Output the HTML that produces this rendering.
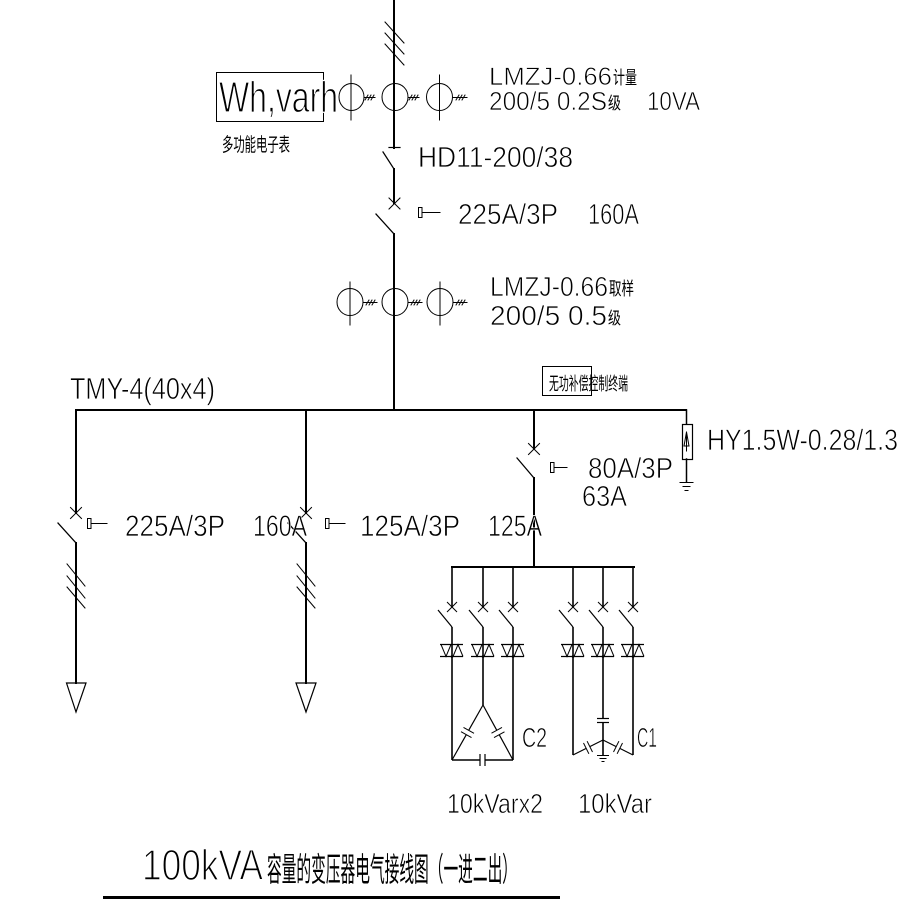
<!DOCTYPE html>
<html><head><meta charset="utf-8"><style>
html,body{margin:0;padding:0;background:#fff;}
svg{display:block;}
text{font-family:"Liberation Sans","Noto Sans CJK SC",sans-serif;fill:#000;stroke:#fff;stroke-width:0.7px;paint-order:fill;}
.cj{font-family:"Noto Sans CJK SC","WenQuanYi Zen Hei",sans-serif;stroke:none;}
</style></head><body>
<svg width="914" height="912" viewBox="0 0 914 912" xmlns="http://www.w3.org/2000/svg">
<rect width="914" height="912" fill="#fff"/>
<g stroke="#000" fill="none" stroke-linecap="square">
<!-- main vertical -->
<line x1="394" y1="0" x2="394" y2="148" stroke-width="2"/>
<line x1="389" y1="147.5" x2="400" y2="147.5" stroke-width="1.2"/>
<line x1="383" y1="152" x2="394" y2="169" stroke-width="1.3"/>
<line x1="394" y1="169" x2="394" y2="203" stroke-width="2"/>
<line x1="389" y1="198" x2="400" y2="209" stroke-width="1"/>
<line x1="400" y1="198" x2="389" y2="209" stroke-width="1"/>
<line x1="376" y1="214" x2="394" y2="234" stroke-width="1.3"/>
<line x1="394" y1="234" x2="394" y2="410" stroke-width="2"/>
<!-- top slashes -->
<line x1="385" y1="22" x2="404" y2="43" stroke-width="1"/>
<line x1="385" y1="33" x2="404" y2="54" stroke-width="1"/>
<line x1="385" y1="44" x2="404" y2="65" stroke-width="1"/>
<!-- Wh box -->
<rect x="216.5" y="72.5" width="107" height="49" stroke-width="1"/>
<!-- top CTs -->
<g stroke-width="1">
<ellipse cx="351.5" cy="97" rx="12.5" ry="13.5"/>
<line x1="351" y1="75" x2="351" y2="120"/>
<line x1="364" y1="97.5" x2="375" y2="97.5"/>
<line x1="365" y1="100" x2="368" y2="95"/><line x1="368" y1="100" x2="371" y2="95"/><line x1="371" y1="100" x2="374" y2="95"/>
<ellipse cx="395" cy="97" rx="13" ry="13.5"/>
<line x1="408" y1="97.5" x2="419" y2="97.5"/>
<line x1="409" y1="100" x2="412" y2="95"/><line x1="412" y1="100" x2="415" y2="95"/><line x1="415" y1="100" x2="418" y2="95"/>
<ellipse cx="439.5" cy="97" rx="13" ry="13.5"/>
<line x1="439.5" y1="75" x2="439.5" y2="120"/>
<line x1="452.5" y1="97.5" x2="467" y2="97.5"/>
<line x1="456" y1="100" x2="459" y2="95"/><line x1="459" y1="100" x2="462" y2="95"/><line x1="462" y1="100" x2="465" y2="95"/>
<!-- second CTs -->
<ellipse cx="350" cy="302" rx="13" ry="13.5"/>
<line x1="350" y1="282" x2="350" y2="325"/>
<line x1="363" y1="302.5" x2="377" y2="302.5"/>
<line x1="366" y1="305" x2="369" y2="300"/><line x1="369" y1="305" x2="372" y2="300"/><line x1="372" y1="305" x2="375" y2="300"/>
<ellipse cx="395" cy="302" rx="13" ry="13.5"/>
<line x1="408" y1="302.5" x2="422" y2="302.5"/>
<line x1="411" y1="305" x2="414" y2="300"/><line x1="414" y1="305" x2="417" y2="300"/><line x1="417" y1="305" x2="420" y2="300"/>
<ellipse cx="440" cy="302" rx="13" ry="13.5"/>
<line x1="440" y1="282" x2="440" y2="325"/>
<line x1="453" y1="302.5" x2="467" y2="302.5"/>
<line x1="456" y1="305" x2="459" y2="300"/><line x1="459" y1="305" x2="462" y2="300"/><line x1="462" y1="305" x2="465" y2="300"/>
<!-- operator symbols -->
<rect x="418.5" y="207.5" width="3.5" height="10"/><line x1="422" y1="212.5" x2="440" y2="212.5"/>
<rect x="87.5" y="518.5" width="3.5" height="10"/><line x1="91" y1="523.5" x2="107" y2="523.5"/>
<rect x="325.5" y="518.5" width="3.5" height="10"/><line x1="329" y1="523.5" x2="345" y2="523.5"/>
<rect x="550.5" y="462.5" width="3.5" height="10"/><line x1="554" y1="467.5" x2="567" y2="467.5"/>
<!-- control box -->
<rect x="542.5" y="366.5" width="49" height="29"/>
</g>
<!-- bus -->
<line x1="76" y1="410" x2="686" y2="410" stroke-width="2"/>
<!-- left feeder -->
<line x1="76" y1="410" x2="76" y2="513" stroke-width="2"/>
<line x1="70.5" y1="507.5" x2="81.5" y2="518.5" stroke-width="1"/>
<line x1="81.5" y1="507.5" x2="70.5" y2="518.5" stroke-width="1"/>
<line x1="58" y1="523" x2="76" y2="543" stroke-width="1.3"/>
<line x1="76" y1="543" x2="76" y2="683" stroke-width="2"/>
<line x1="67" y1="564" x2="85" y2="586" stroke-width="1"/>
<line x1="67" y1="576" x2="85" y2="598" stroke-width="1"/>
<line x1="67" y1="587" x2="85" y2="608" stroke-width="1"/>
<polygon points="66.5,683 86,683 76,712" stroke-width="1.2"/>
<!-- second feeder -->
<line x1="306" y1="410" x2="306" y2="513" stroke-width="2"/>
<line x1="300.5" y1="507.5" x2="311.5" y2="518.5" stroke-width="1"/>
<line x1="311.5" y1="507.5" x2="300.5" y2="518.5" stroke-width="1"/>
<line x1="288" y1="523" x2="306" y2="543" stroke-width="1.3"/>
<line x1="306" y1="543" x2="306" y2="683" stroke-width="2"/>
<line x1="297" y1="564" x2="315" y2="586" stroke-width="1"/>
<line x1="297" y1="576" x2="315" y2="598" stroke-width="1"/>
<line x1="297" y1="587" x2="315" y2="608" stroke-width="1"/>
<polygon points="296,683 316,683 306,712" stroke-width="1.2"/>
<!-- third feeder -->
<line x1="534" y1="410" x2="534" y2="448" stroke-width="2"/>
<line x1="528.5" y1="443.5" x2="539.5" y2="454.5" stroke-width="1"/>
<line x1="539.5" y1="443.5" x2="528.5" y2="454.5" stroke-width="1"/>
<line x1="517" y1="458" x2="534" y2="478" stroke-width="1.3"/>
<line x1="534" y1="478" x2="534" y2="567" stroke-width="2"/>
<!-- arrester -->
<line x1="686.5" y1="410" x2="686.5" y2="424" stroke-width="1.5"/>
<rect x="682.5" y="424.5" width="10" height="35" stroke-width="1.2"/>
<polygon points="684,446 686.5,432 689,446" stroke-width="1"/>
<line x1="686.5" y1="432" x2="686.5" y2="451" stroke-width="1"/>
<line x1="686.5" y1="459" x2="686.5" y2="482" stroke-width="1.5"/>
<line x1="680" y1="482.5" x2="693" y2="482.5" stroke-width="1"/>
<line x1="683" y1="486.5" x2="690" y2="486.5" stroke-width="1"/>
<line x1="685" y1="490.5" x2="688" y2="490.5" stroke-width="1"/>
<!-- capacitor bus -->
<line x1="452" y1="567" x2="634" y2="567" stroke-width="2"/>
</g>
<g stroke="#000" fill="none" stroke-width="1.6">
<!-- drops -->
<g id="d452">
<line x1="452" y1="567" x2="452" y2="607"/>
<line x1="447" y1="602" x2="457" y2="612" stroke-width="1"/><line x1="457" y1="602" x2="447" y2="612" stroke-width="1"/>
<line x1="438" y1="610" x2="452" y2="627" stroke-width="1.2"/>
<line x1="452" y1="627" x2="452" y2="656"/>
<line x1="440" y1="644.5" x2="463" y2="644.5" stroke-width="1.2"/>
<line x1="440" y1="656.5" x2="463" y2="656.5" stroke-width="1.2"/>
<polyline points="441,644.5 446,656.5 451,644.5" stroke-width="1"/>
<polyline points="453,656.5 458,644.5 463,656.5" stroke-width="1"/>
</g>
<use href="#d452" x="31"/>
<use href="#d452" x="61"/>
<use href="#d452" x="121"/>
<use href="#d452" x="151"/>
<use href="#d452" x="181"/>
<circle cx="452" cy="656.5" r="1.3" fill="#000" stroke="none"/>
<circle cx="483" cy="656.5" r="1.3" fill="#000" stroke="none"/>
<circle cx="513" cy="656.5" r="1.3" fill="#000" stroke="none"/>
<circle cx="573" cy="656.5" r="1.3" fill="#000" stroke="none"/>
<circle cx="603" cy="656.5" r="1.3" fill="#000" stroke="none"/>
<circle cx="633" cy="656.5" r="1.3" fill="#000" stroke="none"/>
<!-- C2 delta -->
<line x1="452" y1="656" x2="452" y2="760"/>
<line x1="513" y1="656" x2="513" y2="760"/>
<line x1="483" y1="656" x2="483" y2="705"/>
<line x1="483" y1="705" x2="468.7" y2="730.3" stroke-width="1.2"/>
<line x1="466.3" y1="734.7" x2="452" y2="760" stroke-width="1.2"/>
<line x1="463.5" y1="727.4" x2="474" y2="733.3" stroke-width="1"/>
<line x1="461" y1="731.7" x2="471.5" y2="737.6" stroke-width="1"/>
<line x1="483" y1="705" x2="496.8" y2="730.3" stroke-width="1.2"/>
<line x1="499.2" y1="734.7" x2="513" y2="760" stroke-width="1.2"/>
<line x1="491.5" y1="733.2" x2="502" y2="727.4" stroke-width="1"/>
<line x1="494" y1="737.6" x2="504.5" y2="731.8" stroke-width="1"/>
<line x1="452" y1="760" x2="480" y2="760"/>
<line x1="485" y1="760" x2="513" y2="760"/>
<line x1="480" y1="754" x2="480" y2="766" stroke-width="1.2"/>
<line x1="485" y1="754" x2="485" y2="766" stroke-width="1.2"/>
<!-- C1 star -->
<line x1="573" y1="656" x2="573" y2="755"/>
<line x1="633" y1="656" x2="633" y2="755"/>
<line x1="603" y1="656" x2="603" y2="718"/>
<line x1="597" y1="718.5" x2="609" y2="718.5" stroke-width="1.2"/>
<line x1="597" y1="722.5" x2="609" y2="722.5" stroke-width="1.2"/>
<line x1="603" y1="723" x2="603" y2="755"/>
<line x1="597" y1="755.5" x2="609" y2="755.5" stroke-width="1"/>
<line x1="599.5" y1="758.5" x2="606.5" y2="758.5" stroke-width="1"/>
<line x1="601.5" y1="761.5" x2="604.5" y2="761.5" stroke-width="1"/>
<line x1="573" y1="755" x2="586.2" y2="748.4" stroke-width="1.2"/>
<line x1="589.8" y1="746.6" x2="603" y2="740" stroke-width="1.2"/>
<line x1="583.5" y1="743" x2="588.9" y2="753.8" stroke-width="1"/>
<line x1="587.1" y1="741.2" x2="592.5" y2="752" stroke-width="1"/>
<line x1="603" y1="740" x2="616.2" y2="746.6" stroke-width="1.2"/>
<line x1="619.8" y1="748.4" x2="633" y2="755" stroke-width="1.2"/>
<line x1="618.9" y1="741.2" x2="613.5" y2="752" stroke-width="1"/>
<line x1="622.5" y1="743" x2="617.1" y2="753.8" stroke-width="1"/>
<!-- title underline -->
<line x1="103" y1="897.5" x2="560" y2="897.5" stroke-width="3" stroke-linecap="butt"/>
</g>
<!-- TEXT -->
<text x="219" y="112" font-size="44" textLength="119" lengthAdjust="spacingAndGlyphs" style="stroke-width:1.2px">Wh,varh</text>
<text class="cj" x="222" y="151" font-size="19" textLength="68" lengthAdjust="spacingAndGlyphs">多功能电子表</text>
<text x="489" y="85" font-size="25" textLength="123" lengthAdjust="spacingAndGlyphs">LMZJ-0.66</text>
<text class="cj" x="613" y="84" font-size="18" textLength="24" lengthAdjust="spacingAndGlyphs">计量</text>
<text x="489" y="110" font-size="26" textLength="118" lengthAdjust="spacingAndGlyphs">200/5 0.2S</text>
<text class="cj" x="608" y="109" font-size="17" textLength="13" lengthAdjust="spacingAndGlyphs">级</text>
<text x="647" y="110" font-size="26" textLength="53" lengthAdjust="spacingAndGlyphs">10VA</text>
<text x="418" y="167" font-size="29" textLength="155" lengthAdjust="spacingAndGlyphs">HD11-200/38</text>
<text x="458" y="224" font-size="29" textLength="100" lengthAdjust="spacingAndGlyphs">225A/3P</text>
<text x="588" y="224" font-size="29" textLength="51" lengthAdjust="spacingAndGlyphs">160A</text>
<text x="490" y="296" font-size="28" textLength="118" lengthAdjust="spacingAndGlyphs">LMZJ-0.66</text>
<text class="cj" x="609" y="295" font-size="18" textLength="25" lengthAdjust="spacingAndGlyphs">取样</text>
<text x="490" y="325" font-size="28" textLength="117" lengthAdjust="spacingAndGlyphs">200/5 0.5</text>
<text class="cj" x="608" y="324" font-size="17" textLength="13" lengthAdjust="spacingAndGlyphs">级</text>
<text x="70" y="399" font-size="31" textLength="145" lengthAdjust="spacingAndGlyphs">TMY-4(40x4)</text>
<text class="cj" x="549" y="390" font-size="18" textLength="79" lengthAdjust="spacingAndGlyphs">无功补偿控制终端</text>
<text x="707" y="450" font-size="30" textLength="191" lengthAdjust="spacingAndGlyphs">HY1.5W-0.28/1.3</text>
<text x="588" y="478" font-size="29" textLength="85" lengthAdjust="spacingAndGlyphs">80A/3P</text>
<text x="582" y="506" font-size="29" textLength="45" lengthAdjust="spacingAndGlyphs">63A</text>
<text x="125" y="536" font-size="30" textLength="100" lengthAdjust="spacingAndGlyphs">225A/3P</text>
<text x="253" y="536" font-size="30" textLength="54" lengthAdjust="spacingAndGlyphs">160A</text>
<text x="360" y="536" font-size="30" textLength="100" lengthAdjust="spacingAndGlyphs">125A/3P</text>
<text x="488" y="536" font-size="30" textLength="54" lengthAdjust="spacingAndGlyphs">125A</text>
<text x="522" y="747" font-size="28" textLength="25" lengthAdjust="spacingAndGlyphs">C2</text>
<text x="637" y="747" font-size="28" textLength="20" lengthAdjust="spacingAndGlyphs">C1</text>
<text x="447" y="813" font-size="28" textLength="96" lengthAdjust="spacingAndGlyphs">10kVarx2</text>
<text x="578" y="813" font-size="28" textLength="74" lengthAdjust="spacingAndGlyphs">10kVar</text>
<text x="142" y="880" font-size="44" textLength="121" lengthAdjust="spacingAndGlyphs" style="stroke-width:1.4px">100kVA</text>
<text class="cj" x="267" y="881" font-size="33" textLength="250" lengthAdjust="spacingAndGlyphs">容量的变压器电气接线图（一进二出）</text>
</svg>
</body></html>
